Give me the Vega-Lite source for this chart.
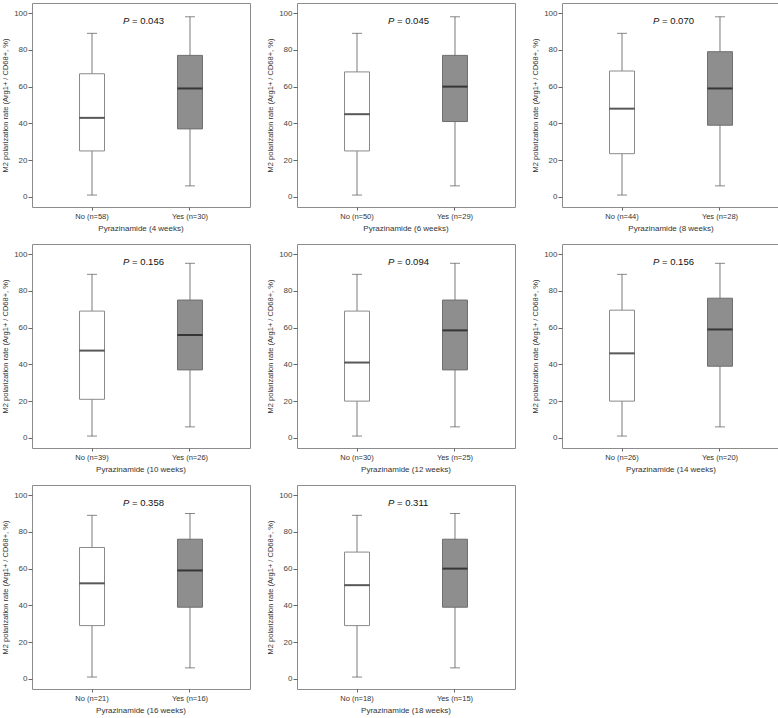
{
  "$schema": "https://vega.github.io/schema/vega-lite/v6.json",
  "padding": {"left": 1, "top": 2, "right": 0, "bottom": 0},
  "background": "white",
  "data": {"values": [
    {"panel": "Pyrazinamide (4 weeks)", "group": "No", "label": "No (n=58)", "min": 1, "q1": 25, "median": 43, "q3": 67, "max": 89, "p": "= 0.043"},
    {"panel": "Pyrazinamide (4 weeks)", "group": "Yes", "label": "Yes (n=30)", "min": 6, "q1": 37, "median": 59, "q3": 77, "max": 98, "p": "= 0.043"},
    {"panel": "Pyrazinamide (6 weeks)", "group": "No", "label": "No (n=50)", "min": 1, "q1": 25, "median": 45, "q3": 68, "max": 89, "p": "= 0.045"},
    {"panel": "Pyrazinamide (6 weeks)", "group": "Yes", "label": "Yes (n=29)", "min": 6, "q1": 41, "median": 60, "q3": 77, "max": 98, "p": "= 0.045"},
    {"panel": "Pyrazinamide (8 weeks)", "group": "No", "label": "No (n=44)", "min": 1, "q1": 23.5, "median": 48, "q3": 68.5, "max": 89, "p": "= 0.070"},
    {"panel": "Pyrazinamide (8 weeks)", "group": "Yes", "label": "Yes (n=28)", "min": 6, "q1": 39, "median": 59, "q3": 79, "max": 98, "p": "= 0.070"},
    {"panel": "Pyrazinamide (10 weeks)", "group": "No", "label": "No (n=39)", "min": 1, "q1": 21, "median": 47.5, "q3": 69, "max": 89, "p": "= 0.156"},
    {"panel": "Pyrazinamide (10 weeks)", "group": "Yes", "label": "Yes (n=26)", "min": 6, "q1": 37, "median": 56, "q3": 75, "max": 95, "p": "= 0.156"},
    {"panel": "Pyrazinamide (12 weeks)", "group": "No", "label": "No (n=30)", "min": 1, "q1": 20, "median": 41, "q3": 69, "max": 89, "p": "= 0.094"},
    {"panel": "Pyrazinamide (12 weeks)", "group": "Yes", "label": "Yes (n=25)", "min": 6, "q1": 37, "median": 58.5, "q3": 75, "max": 95, "p": "= 0.094"},
    {"panel": "Pyrazinamide (14 weeks)", "group": "No", "label": "No (n=26)", "min": 1, "q1": 20, "median": 46, "q3": 69.5, "max": 89, "p": "= 0.156"},
    {"panel": "Pyrazinamide (14 weeks)", "group": "Yes", "label": "Yes (n=20)", "min": 6, "q1": 39, "median": 59, "q3": 76, "max": 95, "p": "= 0.156"},
    {"panel": "Pyrazinamide (16 weeks)", "group": "No", "label": "No (n=21)", "min": 1, "q1": 29, "median": 52, "q3": 71.5, "max": 89, "p": "= 0.358"},
    {"panel": "Pyrazinamide (16 weeks)", "group": "Yes", "label": "Yes (n=16)", "min": 6, "q1": 39, "median": 59, "q3": 76, "max": 90, "p": "= 0.358"},
    {"panel": "Pyrazinamide (18 weeks)", "group": "No", "label": "No (n=18)", "min": 1, "q1": 29, "median": 51, "q3": 69, "max": 89, "p": "= 0.311"},
    {"panel": "Pyrazinamide (18 weeks)", "group": "Yes", "label": "Yes (n=15)", "min": 6, "q1": 39, "median": 60, "q3": 76, "max": 90, "p": "= 0.311"}
  ]},
  "facet": {
    "field": "panel", "type": "nominal", "title": null,
    "sort": ["Pyrazinamide (4 weeks)", "Pyrazinamide (6 weeks)", "Pyrazinamide (8 weeks)", "Pyrazinamide (10 weeks)", "Pyrazinamide (12 weeks)", "Pyrazinamide (14 weeks)", "Pyrazinamide (16 weeks)", "Pyrazinamide (18 weeks)"],
    "header": {"labelOrient": "bottom", "labelFontSize": 8, "labelFont": "Liberation Sans", "labelColor": "#333", "labelPadding": 5}
  },
  "columns": 3,
  "spacing": {"column": 15, "row": 10},
  "resolve": {"scale": {"x": "independent"}, "axis": {"x": "independent", "y": "independent"}},
  "spec": {
    "width": 218,
    "height": 204,
    "encoding": {
      "x": {"field": "label", "type": "nominal", "sort": "ascending",
        "scale": {"paddingInner": 0.745, "paddingOuter": 0.485},
        "axis": {"title": null, "labelAngle": 0, "domain": false, "tickSize": 3, "tickColor": "#666", "labelFontSize": 7.5, "labelColor": "#333", "labelFont": "Liberation Sans", "labelPadding": 2}}
    },
    "layer": [
      {
        "mark": {"type": "rule", "color": "#7a7a7a", "strokeWidth": 1},
        "encoding": {
          "y": {"field": "min", "type": "quantitative",
            "scale": {"domain": [-5.5, 105.5], "nice": false, "zero": false},
            "axis": {"title": "M2 polarization rate (Arg1+ / CD68+, %)", "values": [0, 20, 40, 60, 80, 100], "grid": false, "domain": false, "tickSize": 4, "tickColor": "#666", "labelFontSize": 8, "labelColor": "#444", "labelFont": "Liberation Sans", "labelPadding": 1, "titleFontSize": 7.5, "titleFont": "Liberation Sans", "titleFontWeight": "normal", "titleColor": "#333", "titlePadding": 4}},
          "y2": {"field": "max"}
        }
      },
      {
        "mark": {"type": "bar", "strokeWidth": 1},
        "encoding": {
          "y": {"field": "q1", "type": "quantitative"},
          "y2": {"field": "q3"},
          "fill": {"field": "group", "type": "nominal", "scale": {"domain": ["No", "Yes"], "range": ["#ffffff", "#8e8e8e"]}, "legend": null},
          "stroke": {"field": "group", "type": "nominal", "scale": {"domain": ["No", "Yes"], "range": ["#8a8a8a", "#6e6e6e"]}, "legend": null}
        }
      },
      {
        "mark": {"type": "tick", "size": 25, "thickness": 2, "color": "#111"},
        "encoding": {"y": {"field": "median", "type": "quantitative"}}
      },
      {
        "mark": {"type": "tick", "size": 10, "thickness": 1, "color": "#555"},
        "encoding": {"y": {"field": "min", "type": "quantitative"}}
      },
      {
        "mark": {"type": "tick", "size": 10, "thickness": 1, "color": "#555"},
        "encoding": {"y": {"field": "max", "type": "quantitative"}}
      },
      {
        "transform": [{"filter": "datum.group == 'No'"}],
        "mark": {"type": "text", "text": "P", "fontStyle": "italic", "font": "Liberation Sans", "fontSize": 9.5, "align": "left", "baseline": "middle", "dx": 31, "color": "#111"},
        "encoding": {"y": {"datum": 95.5, "type": "quantitative"}}
      },
      {
        "transform": [{"filter": "datum.group == 'No'"}],
        "mark": {"type": "text", "font": "Liberation Sans", "fontSize": 9.5, "align": "left", "baseline": "middle", "dx": 40, "color": "#111"},
        "encoding": {"y": {"datum": 95.5, "type": "quantitative"}, "text": {"field": "p"}}
      }
    ]
  },
  "config": {
    "view": {"stroke": "#8c8c8c", "strokeWidth": 1},
    "font": "Liberation Sans"
  }
}
